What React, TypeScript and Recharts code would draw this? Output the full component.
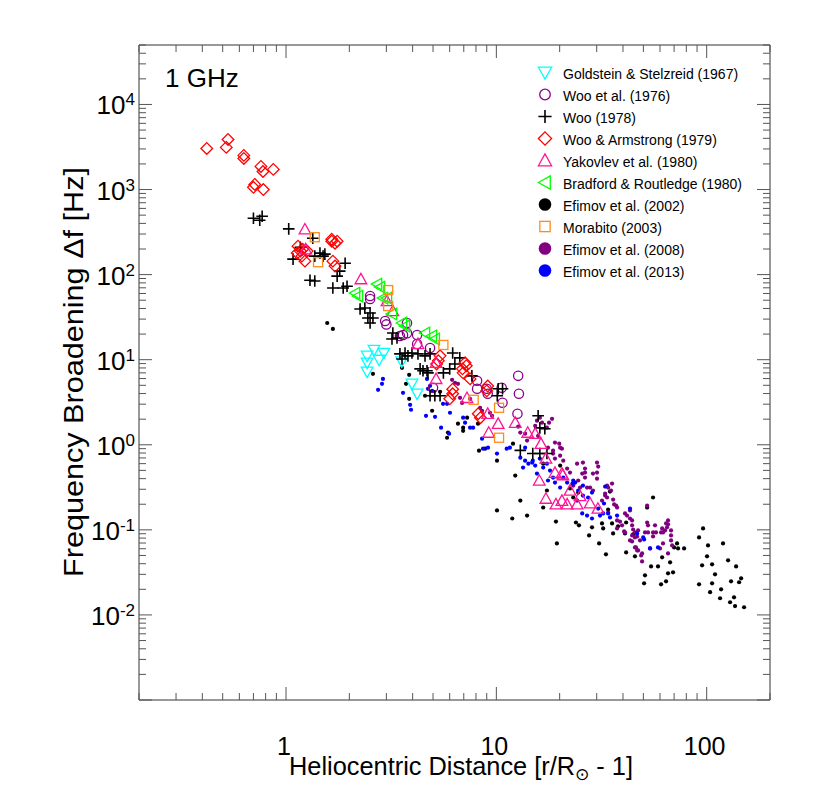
import React from 'react';
import { ScatterChart, Scatter, XAxis, YAxis, Legend } from 'recharts';

const FONT = "'Liberation Sans', Arial, Helvetica, sans-serif";
const FRAME = '#333';
const TICK = '#555';

// ---- tick labels ----
const X_LABELS = [1, 10, 100];
const Y_LABEL_EXPONENTS = [-2, -1, 0, 1, 2, 3, 4];
const X_DOMAIN: [number, number] = [0.2, 200];
const Y_DOMAIN: [number, number] = [0.001, 50000];

// ---- data (x = r/Rsun - 1, y = frequency broadening Hz) ----
const goldstein1967: [number, number][] = [
  [2.43, 11.1], [2.62, 13.0], [2.92, 12.0], [2.43, 9.2], [2.77, 9.95], [2.43, 7.2],
  [3.55, 9.5], [3.97, 5.2], [4.2, 3.97],
];

const wooEtAl1976: [number, number][] = [
  [2.51, 51.6], [2.51, 56], [2.96, 28.5], [3.0, 26], [3.48, 19], [3.6, 19.5], [3.76, 20.5],
  [3.76, 27], [4.2, 19.5], [4.2, 15.3], [4.84, 13.7], [5.0, 4.67], [8.1, 5.65], [8.1, 4.55],
  [9.0, 4.55], [9.1, 3.97], [10.6, 4.67], [10.7, 3.12], [12.7, 6.46], [12.8, 3.97], [12.6, 2.32],
];

const woo1978: [number, number][] = [
  [0.70, 459], [0.77, 485], [0.75, 436], [1.03, 345], [1.34, 268], [1.45, 179], [1.37, 165],
  [1.08, 152], [1.50, 165], [1.30, 86], [1.37, 84], [1.91, 136], [1.80, 110], [1.75, 96],
  [1.67, 69.5], [1.87, 69.5], [1.95, 73], [2.25, 39.5], [2.37, 40.5], [2.51, 35.4], [2.45, 30.9],
  [2.59, 30.9], [2.51, 27], [3.22, 20.6], [3.37, 18], [3.19, 17.5], [1.17, 210], [1.53, 174],
  [3.48, 11.7], [3.68, 12.0], [3.80, 11.1], [3.56, 10.2], [4.34, 7.8], [4.68, 7.4], [4.84, 3.77],
  [5.1, 3.77], [5.4, 3.77], [3.97, 12.0], [4.24, 11.7], [4.58, 11.1], [4.84, 11.7], [4.48, 7.4],
  [4.73, 7.0], [5.6, 7.0], [6.0, 7.8], [6.2, 12.0], [6.7, 10.5], [6.35, 8.9], [7.65, 6.46],
  [10.2, 4.55], [10.7, 4.55], [10.1, 3.77], [16.1, 1.58], [17.0, 1.54], [15.8, 2.19],
  [14.9, 0.79], [16.1, 0.79], [17.4, 0.79], [13.0, 0.86],
];

const wooArmstrong1979: [number, number][] = [
  [0.42, 3040], [0.52, 3130], [0.53, 3880], [0.63, 2520], [0.63, 2320], [0.76, 1870],
  [0.777, 1630], [0.87, 1725], [0.70, 1062], [0.71, 1150], [0.78, 1000],
  [1.14, 216], [1.17, 189], [1.20, 199], [1.19, 165], [1.23, 144], [1.26, 189], [1.13, 179],
  [1.65, 261], [1.71, 234], [1.75, 247], [1.67, 144], [1.71, 126], [1.65, 247],
  [5.4, 11.1], [5.3, 9.7], [5.2, 8.9], [7.1, 9.2], [7.2, 8.5], [6.9, 7.8], [6.95, 7.0],
  [7.5, 5.95], [9.1, 4.9], [9.0, 4.3], [6.2, 4.5], [6.2, 3.97], [6.0, 3.47], [8.2, 2.32], [8.4, 2.08],
];

const yakovlev1980: [number, number][] = [
  [1.23, 341], [1.24, 199], [2.27, 88.5], [3.02, 48.9], [3.22, 37.3], [4.24, 15.3], [5.17, 9.2],
  [5.17, 5.95], [7.25, 3.56], [9.1, 2.32], [10.2, 1.77], [9.2, 1.39], [12.3, 1.82], [14.1, 1.39],
  [15.3, 1.35], [16.3, 1.03], [17.2, 0.69], [19.0, 0.47], [20.5, 0.46], [20.7, 0.44], [16.0, 0.38],
  [22.4, 0.29], [17.2, 0.233], [19.2, 0.2], [20.5, 0.22], [21.7, 0.2], [24.2, 0.2], [27.9, 0.205],
  [30.4, 0.178], [25.0, 0.25],
];

const bradford1980: [number, number][] = [
  [2.71, 77.4], [2.80, 71.3], [2.13, 60.7], [2.20, 56], [2.89, 53], [3.02, 53], [3.19, 34.5],
  [3.56, 27], [3.68, 24.9], [4.58, 20.6], [4.94, 19], [5.1, 17.5],
];

const efimov2002: [number, number][] = [
  [1.57, 27.0], [1.67, 23.0], [2.59, 6.82], [3.56, 8.02], [3.85, 6.64], [3.72, 5.20], [3.85, 3.47],
  [4.58, 3.77], [4.95, 2.51], [5.40, 4.20], [5.83, 1.21], [5.89, 1.39], [6.57, 1.77], [6.95, 1.59],
  [7.26, 2.08], [6.95, 1.46], [8.18, 1.77], [8.27, 0.853], [8.84, 0.90], [10.07, 0.651], [12.0, 1.03],
  [12.3, 0.434], [10.07, 0.169], [11.9, 0.136], [13.0, 0.221], [14.0, 0.147], [16.7, 0.60],
  [17.4, 0.290], [16.7, 0.183], [19.2, 0.125], [19.4, 0.0693], [20.1, 0.569], [23.2, 0.240],
  [24.5, 0.274], [22.4, 0.306], [23.9, 0.122], [24.7, 0.113], [27.6, 0.0860], [28.5, 0.107],
  [30.8, 0.0693], [31.8, 0.119], [32.2, 0.104], [33.2, 0.0515], [34.7, 0.282], [34.0, 0.173],
  [35.9, 0.0908], [37.9, 0.110], [35.5, 0.119], [41.4, 0.0543], [45.6, 0.0488], [41.4, 0.122],
  [44.7, 0.0883], [40.9, 0.0908], [55.6, 0.240], [52.1, 0.183], [50.9, 0.0292], [50.4, 0.0235],
  [54.4, 0.0372], [58.7, 0.0372], [61.4, 0.0475], [67.0, 0.0415], [69.2, 0.0317], [65.5, 0.0308],
  [64.1, 0.0248], [60.7, 0.0229], [72.3, 0.0693], [70.0, 0.0622], [73.1, 0.0605], [78.1, 0.0605],
  [96.1, 0.104], [92.0, 0.0815], [119.6, 0.0693], [101.5, 0.0656], [100.4, 0.0488], [126.4, 0.0438],
  [95.1, 0.0383], [106.1, 0.0393], [138.0, 0.0372], [109.6, 0.0300], [145.8, 0.0269],
  [142.6, 0.0242], [130.6, 0.0248], [92.0, 0.0229], [106.1, 0.0235], [117.1, 0.0200],
  [103.8, 0.0185], [134.9, 0.0161], [115.8, 0.0157], [129.2, 0.0141], [136.4, 0.0127], [150.6, 0.0123],
];

const morabito2003: [number, number][] = [
  [1.37, 275], [1.42, 140], [3.06, 65.8], [3.06, 42.7], [5.6, 14.9], [7.8, 3.38], [10.3, 2.72], [10.3, 1.21],
];

const efimov2008: [number, number][] = [
  [6.16, 5.8], [6.57, 5.2], [6.36, 5.34], [6.72, 3.56], [6.87, 3.1], [7.50, 3.47], [8.37, 2.72],
  [8.55, 2.51], [9.33, 2.38], [9.54, 2.19], [12.7, 1.63], [13.0, 1.39], [13.7, 1.35], [14.0, 1.12],
  [15.8, 1.27], [16.1, 2.08], [16.5, 1.82], [17.4, 1.59], [15.6, 1.92], [15.3, 1.67], [18.4, 2.02],
  [17.8, 1.82], [19.0, 1.06], [19.9, 1.03], [18.6, 0.853], [20.5, 0.90], [20.1, 0.745], [20.8, 0.651],
  [19.0, 0.688], [25.8, 0.617], [26.4, 0.525], [26.4, 0.471], [30.1, 0.617], [30.5, 0.554],
  [30.1, 0.471], [30.1, 0.400], [26.4, 0.411], [24.5, 0.380], [21.7, 0.525], [22.4, 0.471],
  [33.6, 0.331], [35.5, 0.350], [32.9, 0.267], [31.8, 0.221], [35.9, 0.227], [37.5, 0.183],
  [34.0, 0.160], [43.2, 0.169], [41.8, 0.147], [43.2, 0.136], [37.5, 0.129], [39.6, 0.113],
  [37.5, 0.104], [52.1, 0.122], [52.6, 0.113], [50.9, 0.0933], [56.8, 0.113], [55.6, 0.0933],
  [28.8, 0.458], [23.2, 0.331], [25.0, 0.314], [27.9, 0.314], [35.1, 0.290], [33.6, 0.240],
  [36.3, 0.199], [40.9, 0.156], [38.7, 0.125], [40.9, 0.0933], [45.6, 0.0933], [45.6, 0.0815],
  [43.2, 0.0751], [48.2, 0.0751], [49.3, 0.0426], [52.1, 0.193], [57.4, 0.0933], [61.4, 0.104],
  [62.0, 0.0933], [64.8, 0.107], [64.1, 0.119], [67.7, 0.0860], [67.7, 0.0751], [68.5, 0.0656],
  [65.5, 0.0528], [47.2, 0.0984], [46.1, 0.0622], [48.8, 0.0501], [46.7, 0.0573], [34.0, 0.314],
  [37.1, 0.193], [32.9, 0.253], [44.2, 0.129], [44.2, 0.113], [44.7, 0.101], [40.5, 0.0958],
  [44.2, 0.0860], [46.7, 0.0837], [44.2, 0.0731], [45.6, 0.0622], [47.2, 0.0573], [49.3, 0.0528],
  [52.6, 0.0933], [55.6, 0.0837], [53.8, 0.0605], [60.7, 0.0933], [63.4, 0.0984], [65.5, 0.129],
  [65.5, 0.116], [67.7, 0.0984], [62.0, 0.0693], [60.0, 0.0605], [17.6, 0.925], [18.6, 0.787],
  [20.1, 0.925], [24.2, 0.60], [25.6, 0.458], [27.0, 0.314], [28.8, 0.290],
];

const efimov2013: [number, number][] = [
  [2.89, 5.95], [2.86, 5.20], [2.74, 4.43], [3.60, 4.08], [3.89, 2.95], [3.93, 2.58], [4.63, 2.19],
  [5.11, 2.13], [5.46, 1.59], [5.96, 1.35], [4.68, 5.95], [4.84, 4.93], [4.73, 4.55], [5.58, 3.03],
  [5.83, 3.03], [6.02, 2.38], [6.95, 2.08], [7.10, 1.82], [7.50, 1.59], [7.75, 1.59], [8.55, 1.18],
  [8.64, 0.90], [9.13, 0.925], [10.07, 0.787], [11.2, 0.90], [11.6, 0.925], [4.95, 4.31],
  [13.0, 0.706], [13.7, 0.651], [14.2, 0.60], [13.4, 0.539], [14.9, 0.651], [15.6, 0.458],
  [16.7, 0.539], [18.0, 0.497], [18.6, 0.411], [20.8, 0.411], [21.7, 0.359], [23.0, 0.350],
  [23.7, 0.359], [25.8, 0.331], [14.8, 0.617], [15.3, 0.569], [16.1, 0.688], [17.4, 0.60],
  [17.6, 0.380], [19.0, 0.359], [20.1, 0.314], [24.5, 0.290], [25.8, 0.253], [27.3, 0.240],
  [28.5, 0.274], [24.2, 0.221], [25.6, 0.156], [27.0, 0.147], [28.5, 0.136], [31.1, 0.147],
  [34.0, 0.156], [34.7, 0.140], [37.5, 0.147], [43.2, 0.178], [13.7, 0.925], [23.2, 0.380],
  [32.9, 0.323], [30.5, 0.178], [32.2, 0.156], [46.7, 0.0908], [49.9, 0.0815], [50.4, 0.0772],
  [53.8, 0.0605], [32.5, 0.204], [58.7, 0.0622],
];

type Kind = 'triDown' | 'circle' | 'plus' | 'diamond' | 'triUp' | 'triLeft' | 'dot' | 'square';

interface SeriesDef { name: string; kind: Kind; color: string; data: [number, number][]; }

const SERIES: SeriesDef[] = [
  { name: 'Goldstein & Stelzreid (1967)', kind: 'triDown', color: '#00ffff', data: goldstein1967 },
  { name: 'Woo et al. (1976)', kind: 'circle', color: '#8b008b', data: wooEtAl1976 },
  { name: 'Woo (1978)', kind: 'plus', color: '#000000', data: woo1978 },
  { name: 'Woo & Armstrong (1979)', kind: 'diamond', color: '#ff0000', data: wooArmstrong1979 },
  { name: 'Yakovlev et al. (1980)', kind: 'triUp', color: '#ff1493', data: yakovlev1980 },
  { name: 'Bradford & Routledge (1980)', kind: 'triLeft', color: '#00ff00', data: bradford1980 },
  { name: 'Efimov et al. (2002)', kind: 'dot', color: '#000000', data: efimov2002 },
  { name: 'Morabito (2003)', kind: 'square', color: '#ff8c1a', data: morabito2003 },
  { name: 'Efimov et al. (2008)', kind: 'dot', color: '#800080', data: efimov2008 },
  { name: 'Efimov et al. (2013)', kind: 'dot', color: '#0000ff', data: efimov2013 },
];

// drawing order: dots first, open symbols on top
const DRAW_ORDER = [6, 8, 9, 0, 1, 2, 3, 4, 5, 7];

function Marker({ kind, cx, cy, color, s }: { kind: Kind; cx: number; cy: number; color: string; s: number }) {
  const sw = 1.3;
  switch (kind) {
    case 'triDown':
      return <path d={`M${cx - s},${cy - s * 0.8}L${cx + s},${cy - s * 0.8}L${cx},${cy + s}Z`} fill="none" stroke={color} strokeWidth={sw} />;
    case 'triUp':
      return <path d={`M${cx - s},${cy + s * 0.8}L${cx + s},${cy + s * 0.8}L${cx},${cy - s}Z`} fill="none" stroke={color} strokeWidth={sw} />;
    case 'triLeft':
      return <path d={`M${cx - s},${cy}L${cx + s * 0.8},${cy - s}L${cx + s * 0.8},${cy + s}Z`} fill="none" stroke={color} strokeWidth={sw} />;
    case 'circle':
      return <circle cx={cx} cy={cy} r={s * 0.8} fill="none" stroke={color} strokeWidth={sw} />;
    case 'diamond':
      return <path d={`M${cx},${cy - s}L${cx + s},${cy}L${cx},${cy + s}L${cx - s},${cy}Z`} fill="none" stroke={color} strokeWidth={sw} />;
    case 'square':
      return <rect x={cx - s * 0.78} y={cy - s * 0.78} width={s * 1.56} height={s * 1.56} fill="none" stroke={color} strokeWidth={sw} />;
    case 'plus':
      return <path d={`M${cx - s},${cy}H${cx + s}M${cx},${cy - s}V${cy + s}`} stroke={color} strokeWidth={1.6} />;
    case 'dot':
    default:
      return <circle cx={cx} cy={cy} r={s} fill={color} />;
  }
}

const plotSize = (k: Kind) => (k === 'dot' ? 2.1 : 5.8);
const legendSize = (k: Kind) => (k === 'dot' ? 6.3 : 6.6);

function isMajorX(v: number) { return X_LABELS.some((m) => Math.abs(m - v) < 1e-9); }
function isMajorY(v: number) { const e = Math.log10(v); return Math.abs(e - Math.round(e)) < 1e-6; }

function buildLogTicks(lo: number, hi: number): number[] {
  const out: number[] = [];
  for (let e = Math.floor(Math.log10(lo)); e <= Math.ceil(Math.log10(hi)); e++) {
    for (let k = 1; k <= 9; k++) {
      const v = Number((k * Math.pow(10, e)).toPrecision(3));
      if (v >= lo - 1e-12 && v <= hi + 1e-9) out.push(v);
    }
  }
  return out;
}
const X_TICKS = buildLogTicks(X_DOMAIN[0], X_DOMAIN[1]);
const Y_TICKS = buildLogTicks(Y_DOMAIN[0], Y_DOMAIN[1]);

const MAJ = 13;
const MIN = 7;

const XTickBottom = (p: any) => {
  const v = p.payload.value;
  const major = isMajorX(v);
  return (
    <g>
      <line x1={p.x} x2={p.x} y1={p.y} y2={p.y - (major ? MAJ : MIN)} stroke={TICK} strokeWidth={1} />
      {major && (
        <text x={p.x - 2} y={p.y + 55} textAnchor="middle" fontSize={25} fontFamily={FONT} fill="#000">{String(v)}</text>
      )}
    </g>
  );
};
const XTickTop = (p: any) => {
  const major = isMajorX(p.payload.value);
  return <line x1={p.x} x2={p.x} y1={p.y} y2={p.y + (major ? MAJ : MIN)} stroke={TICK} strokeWidth={1} />;
};
const YTickLeft = (p: any) => {
  const v = p.payload.value;
  const major = isMajorY(v);
  const e = Math.round(Math.log10(v));
  const labelled = major && Y_LABEL_EXPONENTS.includes(e);
  return (
    <g>
      <line x1={p.x} x2={p.x + (major ? MAJ : MIN)} y1={p.y} y2={p.y} stroke={TICK} strokeWidth={1} />
      {labelled && (
        <text x={p.x - 4} y={p.y + 10} textAnchor="end" fontSize={26} fontFamily={FONT} fill="#000">
          10<tspan dy={-9} fontSize={17}>{String(e)}</tspan>
        </text>
      )}
    </g>
  );
};
const YTickRight = (p: any) => {
  const major = isMajorY(p.payload.value);
  return <line x1={p.x} x2={p.x - (major ? MAJ : MIN)} y1={p.y} y2={p.y} stroke={TICK} strokeWidth={1} />;
};

const LegendBox = () => (
  <svg width={814} height={789} style={{ display: 'block' }}>
    <text x={165} y={87} fontSize={26} fontFamily={FONT} fill="#000">1 GHz</text>
    {SERIES.map((s, i) => {
      const cy = 72.5 + i * 22;
      return (
        <g key={s.name}>
          <Marker kind={s.kind} cx={545} cy={cy} color={s.color} s={legendSize(s.kind)} />
          <text x={563} y={cy + 6} fontSize={14} fontFamily={FONT} fill="#000">{s.name}</text>
        </g>
      );
    })}
  </svg>
);

const XTitle = () => (
  <text x={461} y={775} textAnchor="middle" fontSize={25} fontFamily={FONT} fill="#000" textLength={344} lengthAdjust="spacingAndGlyphs">
    Heliocentric Distance [r/R<tspan dy={5} fontSize={17}>⊙</tspan><tspan dy={-5}> - 1]</tspan>
  </text>
);
const YTitle = () => (
  <text x={83} y={372} transform="rotate(-90 83 372)" textAnchor="middle" fontSize={27} fontFamily={FONT} fill="#000" textLength={410} lengthAdjust="spacingAndGlyphs">
    Frequency Broadening Δf [Hz]
  </text>
);

export default function App() {
  return (
    <div style={{ position: 'absolute', left: 0, top: 0, width: 814, height: 789, background: '#fff' }}>
      <ScatterChart width={814} height={789} margin={{ top: 44, right: 43, bottom: 59, left: 79 }}>
        <XAxis
          dataKey="x" type="number" scale="log" domain={X_DOMAIN} allowDataOverflow ticks={X_TICKS} interval={0}
          tickSize={0} tickMargin={0} tickLine={false} axisLine={{ stroke: FRAME }} tick={XTickBottom} height={30}
          label={XTitle}
        />
        <XAxis
          xAxisId="top" orientation="top" dataKey="x" type="number" scale="log" domain={X_DOMAIN} allowDataOverflow
          ticks={X_TICKS} interval={0} tickSize={0} tickMargin={0} tickLine={false} axisLine={{ stroke: FRAME }}
          tick={XTickTop} height={1}
        />
        <YAxis
          dataKey="y" type="number" scale="log" domain={Y_DOMAIN} allowDataOverflow ticks={Y_TICKS} interval={0}
          tickSize={0} tickMargin={0} tickLine={false} axisLine={{ stroke: FRAME }} tick={YTickLeft} width={60}
          label={YTitle}
        />
        <YAxis
          yAxisId="right" orientation="right" dataKey="y" type="number" scale="log" domain={Y_DOMAIN} allowDataOverflow
          ticks={Y_TICKS} interval={0} tickSize={0} tickMargin={0} tickLine={false} axisLine={{ stroke: FRAME }}
          tick={YTickRight} width={1}
        />
        {DRAW_ORDER.map((idx) => {
          const s = SERIES[idx];
          return (
            <Scatter
              key={s.name}
              name={s.name}
              data={s.data.map(([x, y]) => ({ x, y }))}
              isAnimationActive={false}
              shape={(p: any) => <Marker kind={s.kind} cx={p.cx} cy={p.cy} color={s.color} s={plotSize(s.kind)} />}
            />
          );
        })}
        <Legend
          layout="vertical" align="center" verticalAlign="middle"
          wrapperStyle={{ left: 0, top: 0, width: 814, height: 789, pointerEvents: 'none' }}
          content={LegendBox}
        />
      </ScatterChart>
    </div>
  );
}
